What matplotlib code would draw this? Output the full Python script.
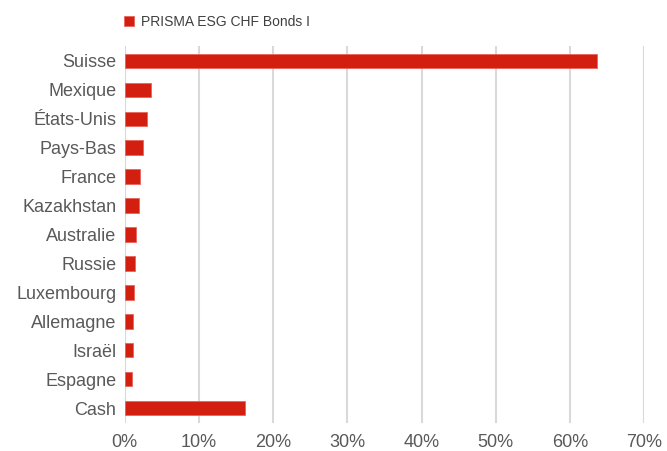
import matplotlib.pyplot as plt
from matplotlib.ticker import FuncFormatter

# Données (répartition par pays, %)
pays = ['Suisse', 'Mexique', 'États-Unis', 'Pays-Bas', 'France', 'Kazakhstan',
        'Australie', 'Russie', 'Luxembourg', 'Allemagne', 'Israël', 'Espagne', 'Cash']
valeurs = [63.6, 3.6, 2.95, 2.4, 2.05, 1.9, 1.47, 1.38, 1.29, 1.12, 1.07, 0.94, 16.2]
serie = 'PRISMA ESG CHF Bonds I'
ticks_x = [0, 10, 20, 30, 40, 50, 60, 70]

plt.rcParams['font.family'] = ['Liberation Sans', 'DejaVu Sans']

fig = plt.figure(figsize=(6.67, 4.51), dpi=100)
ax = fig.add_axes([0.187, 0.063, 0.779, 0.834])

ypos = list(range(len(pays)))
ax.barh(ypos, valeurs, height=0.5, color='#d31f10', edgecolor='#e8645a',
        linewidth=0.6, label=serie, zorder=3)

ax.set_ylim(len(pays) - 0.5, -0.5)
ax.set_yticks(ypos)
ax.set_yticklabels(pays, fontsize=13, color='#595959')
ax.set_xlim(0, 70)
ax.set_xticks(ticks_x)
ax.xaxis.set_major_formatter(FuncFormatter(lambda v, p: f'{v:.0f}%'))
ax.tick_params(axis='x', labelsize=13, labelcolor='#595959', length=0, pad=8)
ax.tick_params(axis='y', length=0, pad=6)
ax.grid(axis='x', color='#d9d9d9', linewidth=1.5, zorder=0)
for s in ax.spines.values():
    s.set_visible(False)

fig.legend(loc='upper left', bbox_to_anchor=(0.167, 0.995), frameon=False,
           fontsize=10, handlelength=0.7, handleheight=0.7, handletextpad=0.5,
           labelcolor='#404040')

fig.savefig('out.png', dpi=100)
